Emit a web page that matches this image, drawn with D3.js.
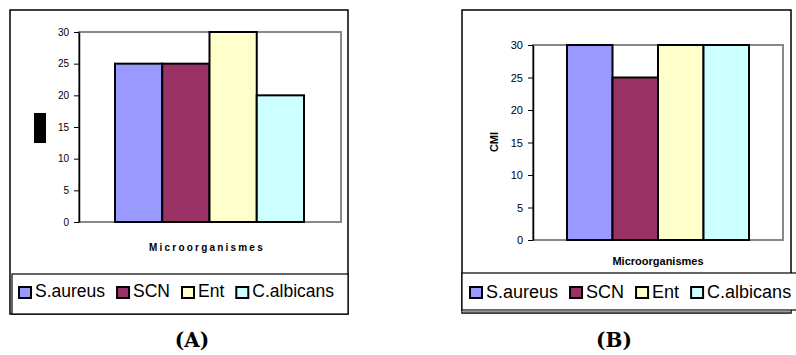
<!DOCTYPE html>
<html>
<head>
<meta charset="utf-8">
<script src="https://cdn.jsdelivr.net/npm/d3@7"></script>
<style>
html,body{margin:0;padding:0;background:#fff;}
svg{display:block;}
</style>
</head>
<body>
<svg id="chart" width="796" height="355"></svg>
<script>
// ---- data ----
const categories = ["S.aureus", "SCN", "Ent", "C.albicans"];
const valuesA = [25, 25, 30, 20];
const valuesB = [30, 25, 30, 30];
const yTicks = [0, 5, 10, 15, 20, 25, 30];
const captions = ["(A)", "(B)"];
const yTitleB = "CMI";
const xTitle = "Microorganismes";

const colors = ["#9999FF", "#993366", "#FFFFCC", "#CCFFFF"];
const svg = d3.select("#chart");
const FONT = "'Liberation Sans', Arial, sans-serif";

function panel(cfg) {
  const g = svg.append("g");
  // outer frame
  g.append("rect").attr("x", cfg.frame[0]).attr("y", cfg.frame[1])
    .attr("width", cfg.frame[2] - cfg.frame[0]).attr("height", cfg.frame[3] - cfg.frame[1])
    .attr("fill", "#fff").attr("stroke", "#000").attr("stroke-width", 1.5);

  const y = d3.scaleLinear().domain([0, 30]).range([cfg.plot[3], cfg.plot[1]]);
  const x = d3.scaleBand().domain(categories).range(cfg.bars).padding(0);

  // plot border (gray)
  g.append("rect").attr("x", cfg.plot[0]).attr("y", cfg.plot[1])
    .attr("width", cfg.plot[2] - cfg.plot[0]).attr("height", cfg.plot[3] - cfg.plot[1])
    .attr("fill", "#fff").attr("stroke", "#888").attr("stroke-width", 2);

  // bars
  g.selectAll("rect.bar").data(cfg.values).enter().append("rect").attr("class", "bar")
    .attr("x", (d, i) => x(categories[i]))
    .attr("y", d => y(d))
    .attr("width", x.bandwidth())
    .attr("height", d => y(0) - y(d))
    .attr("fill", (d, i) => colors[i])
    .attr("stroke", "#000").attr("stroke-width", 2);

  // y axis
  const ax = g.append("g").attr("transform", `translate(${cfg.plot[0]},0)`)
    .call(d3.axisLeft(y).tickValues(yTicks).tickSize(cfg.tickLen).tickPadding(cfg.tickPad).tickSizeOuter(0));
  ax.select(".domain").attr("stroke", "#000").attr("stroke-width", 1.5);
  ax.selectAll(".tick line").attr("stroke", "#000").attr("stroke-width", 1);
  ax.selectAll(".tick text").attr("font-family", FONT).attr("font-size", cfg.tickFont).attr("fill", "#000");

  // x title
  g.append("text").attr("x", (cfg.plot[0] + cfg.plot[2]) / 2 + cfg.titleDx).attr("y", cfg.titleY)
    .attr("text-anchor", "middle").attr("font-family", FONT).attr("font-weight", "bold")
    .attr("font-size", cfg.titleFont).attr("letter-spacing", cfg.titleSpacing)
    .text(xTitle);

  // legend box
  g.append("rect").attr("x", cfg.legend[0]).attr("y", cfg.legend[1])
    .attr("width", cfg.legend[2] - cfg.legend[0]).attr("height", cfg.legend[3] - cfg.legend[1])
    .attr("fill", "#fff").attr("stroke", "#000").attr("stroke-width", 1.2);
  if (cfg.shadow) {
    g.append("line").attr("x1", cfg.frame[0]).attr("x2", cfg.frame[2])
      .attr("y1", cfg.legend[3] + 1.5).attr("y2", cfg.legend[3] + 1.5)
      .attr("stroke", "#999").attr("stroke-width", 1.5);
  }
  let lx = cfg.legendX;
  categories.forEach((c, i) => {
    g.append("rect").attr("x", lx).attr("y", cfg.legendSqY).attr("width", 12).attr("height", 11)
      .attr("fill", colors[i]).attr("stroke", "#000").attr("stroke-width", 2);
    const t = g.append("text").attr("x", lx + 16).attr("y", cfg.legendTextY)
      .attr("font-family", FONT).attr("font-size", cfg.legendFont).attr("fill", "#000").text(c);
    lx = lx + 16 + t.node().getComputedTextLength() + 12;
  });

  // caption
  svg.append("text").attr("x", cfg.captionX).attr("y", 347).attr("text-anchor", "middle")
    .attr("font-family", "'DejaVu Serif', serif").attr("font-weight", "bold").attr("font-size", 20)
    .text(cfg.caption);
  return g;
}

const gA = panel({
  frame: [10, 10, 348, 314],
  plot: [79, 32, 341, 222],
  bars: [115, 304],
  values: valuesA,
  tickLen: 5, tickPad: 5, tickFont: 10,
  titleY: 251, titleFont: 10, titleSpacing: 2.2, titleDx: -3,
  legend: [12, 274, 348, 314], shadow: false,
  legendX: 19, legendSqY: 287, legendTextY: 297, legendFont: 17.5,
  captionX: 192, caption: captions[0]
});
// redacted y-axis label block in panel A
gA.append("rect").attr("x", 34).attr("y", 113).attr("width", 12).attr("height", 30).attr("fill", "#000");

const gB = panel({
  frame: [462, 10, 791, 313],
  plot: [533, 45, 783, 240],
  bars: [567, 749],
  values: valuesB,
  tickLen: 5, tickPad: 5, tickFont: 11,
  titleY: 265, titleFont: 11, titleSpacing: 0, titleDx: 0,
  legend: [462, 273, 800, 310], shadow: true,
  legendX: 470, legendSqY: 287, legendTextY: 298, legendFont: 18,
  captionX: 614, caption: captions[1]
});
gB.append("text").attr("transform", "translate(498,142) rotate(-90)")
  .attr("text-anchor", "middle").attr("font-family", FONT).attr("font-weight", "bold")
  .attr("font-size", 11).text(yTitleB);
</script>
</body>
</html>
